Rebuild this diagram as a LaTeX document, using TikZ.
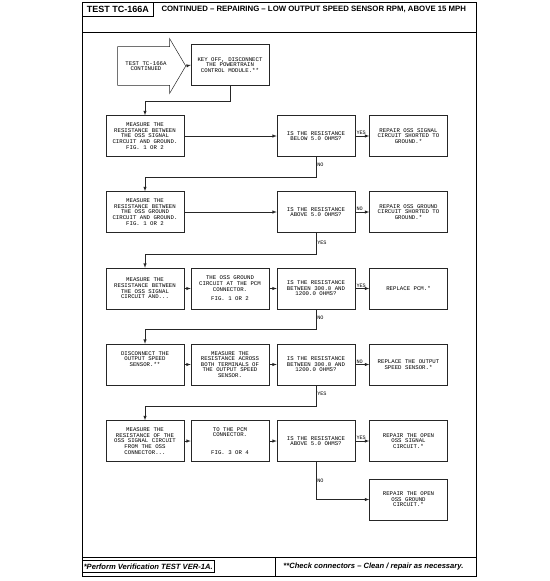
\documentclass[tikz,border=0pt]{standalone}
\usepackage{fontspec}
\setmainfont{Liberation Sans}
\newfontfamily\boxfont{Liberation Mono}
\usetikzlibrary{arrows,shapes.arrows}

\begin{document}
\begin{tikzpicture}[x=1pt,y=-1pt]

\tikzstyle{stepbox}=[draw=black!85,line width=0.5pt,minimum width=78pt,minimum height=41pt,
  inner sep=1pt,align=center,font=\boxfont\fontsize{5.7}{5.6}\selectfont]
\tikzstyle{answer}=[inner sep=1pt,font=\boxfont\fontsize{5.2}{5.2}\selectfont]
\tikzstyle{line}=[draw=black!85,line width=0.5pt,->,>=latex]

\useasboundingbox (0,0) rectangle (549,581);

% frame, heading and footer
\draw[line width=0.6pt] (82,2) rectangle (476,576);
\draw[line width=0.6pt] (82,32) -- (476,32);
\draw[line width=0.6pt] (82,557) -- (476,557);
\draw[line width=0.6pt] (275,557) -- (275,576);
\node[draw,line width=0.6pt,anchor=north west,minimum width=71pt,minimum height=14pt,inner sep=0pt,
  font=\fontsize{9}{9}\selectfont\bfseries] (testname) at (82,2) {TEST TC-166A};
\node[anchor=west,font=\fontsize{7.8}{7.8}\selectfont\bfseries] (title) at (158,9)
  {CONTINUED -- REPAIRING -- LOW OUTPUT SPEED SENSOR RPM, ABOVE 15 MPH};
\node[draw,line width=0.5pt,anchor=west,inner sep=1.5pt,minimum height=12pt,
  font=\fontsize{7.6}{7.6}\selectfont\bfseries\itshape] (note1) at (82,566.5)
  {*Perform Verification TEST VER-1A.};
\node[anchor=east,font=\fontsize{7.6}{7.6}\selectfont\bfseries\itshape] (note2) at (467,566.5)
  {**Check connectors -- Clean / repair as necessary.};

% start
\node[single arrow,draw=black!85,line width=0.5pt,minimum height=68pt,inner xsep=4pt,inner ysep=14.5pt,
  single arrow head extend=8pt,single arrow tip angle=119,align=center,
  font=\boxfont\fontsize{5.7}{5.6}\selectfont] (cont) at (146,66) {TEST TC-166A\\CONTINUED};
\node[stepbox] (keyoff) at (230,65) {KEY OFF, DISCONNECT\\THE POWERTRAIN\\CONTROL MODULE.**};

% row 1
\node[stepbox] (m1) at (145,136) {MEASURE THE\\RESISTANCE BETWEEN\\THE OSS SIGNAL\\CIRCUIT AND GROUND.\\FIG. 1 OR 2};
\node[stepbox] (d1) at (316,136) {IS THE RESISTANCE\\BELOW 5.0 OHMS?};
\node[stepbox] (r1) at (408.5,136) {REPAIR OSS SIGNAL\\CIRCUIT SHORTED TO\\GROUND.*};

% row 2
\node[stepbox] (m2) at (145,212) {MEASURE THE\\RESISTANCE BETWEEN\\THE OSS GROUND\\CIRCUIT AND GROUND.\\FIG. 1 OR 2};
\node[stepbox] (d2) at (316,212) {IS THE RESISTANCE\\ABOVE 5.0 OHMS?};
\node[stepbox] (r2) at (408.5,212) {REPAIR OSS GROUND\\CIRCUIT SHORTED TO\\GROUND.*};

% row 3
\node[stepbox] (m3) at (145,288.5) {MEASURE THE\\RESISTANCE BETWEEN\\THE OSS SIGNAL\\CIRCUIT AND...};
\node[stepbox] (c3) at (230,288.5) {THE OSS GROUND\\CIRCUIT AT THE PCM\\CONNECTOR.\\[4pt]FIG. 1 OR 2};
\node[stepbox] (d3) at (316,288.5) {IS THE RESISTANCE\\BETWEEN 300.0 AND\\1200.0 OHMS?};
\node[stepbox] (r3) at (408.5,288.5) {REPLACE PCM.*};

% row 4
\node[stepbox] (m4) at (145,364.5) {DISCONNECT THE\\OUTPUT SPEED\\SENSOR.**\\[5.6pt]};
\node[stepbox] (c4) at (230,364.5) {MEASURE THE\\RESISTANCE ACROSS\\BOTH TERMINALS OF\\THE OUTPUT SPEED\\SENSOR.};
\node[stepbox] (d4) at (316,364.5) {IS THE RESISTANCE\\BETWEEN 300.0 AND\\1200.0 OHMS?};
\node[stepbox] (r4) at (408.5,364.5) {REPLACE THE OUTPUT\\SPEED SENSOR.*};

% row 5
\node[stepbox] (m5) at (145,441) {MEASURE THE\\RESISTANCE OF THE\\OSS SIGNAL CIRCUIT\\FROM THE OSS\\CONNECTOR...};
\node[stepbox] (c5) at (230,441) {TO THE PCM\\CONNECTOR.\\[12pt]FIG. 3 OR 4};
\node[stepbox] (d5) at (316,441) {IS THE RESISTANCE\\ABOVE 5.0 OHMS?};
\node[stepbox] (r5) at (408.5,441) {REPAIR THE OPEN\\OSS SIGNAL\\CIRCUIT.*};
\node[stepbox] (r6) at (408.5,499.5) {REPAIR THE OPEN\\OSS GROUND\\CIRCUIT.*};

% connectors
\draw[line] (cont.tip) -- (keyoff.west);
\draw[line] (keyoff.south) -- ++(0,15) -| (m1.north);
\draw[line] (m1.east) -- (d1.west);
\draw[line] (d1.east) -- node[answer,pos=0,anchor=south west]{YES} (r1.west);
\draw[line] (d1.south) -- node[answer,pos=0.4,anchor=west]{NO} ++(0,20) -| (m2.north);
\draw[line] (m2.east) -- (d2.west);
\draw[line] (d2.east) -- node[answer,pos=0,anchor=south west]{NO} (r2.west);
\draw[line] (d2.south) -- node[answer,pos=0.48,anchor=west]{YES} ++(0,21) -| (m3.north);
\draw[line] (m3.east) -- (c3.west);
\draw[line] (c3.east) -- (d3.west);
\draw[line] (d3.east) -- node[answer,pos=0,anchor=south west]{YES} (r3.west);
\draw[line] (d3.south) -- node[answer,pos=0.45,anchor=west]{NO} ++(0,20) -| (m4.north);
\draw[line] (m4.east) -- (c4.west);
\draw[line] (c4.east) -- (d4.west);
\draw[line] (d4.east) -- node[answer,pos=0,anchor=south west]{NO} (r4.west);
\draw[line] (d4.south) -- node[answer,pos=0.4,anchor=west]{YES} ++(0,21) -| (m5.north);
\draw[line] (m5.east) -- (c5.west);
\draw[line] (c5.east) -- (d5.west);
\draw[line] (d5.east) -- node[answer,pos=0,anchor=south west]{YES} (r5.west);
\draw[line] (d5.south) |- node[answer,pos=0.25,anchor=west]{NO} (r6.west);

\end{tikzpicture}
\end{document}
